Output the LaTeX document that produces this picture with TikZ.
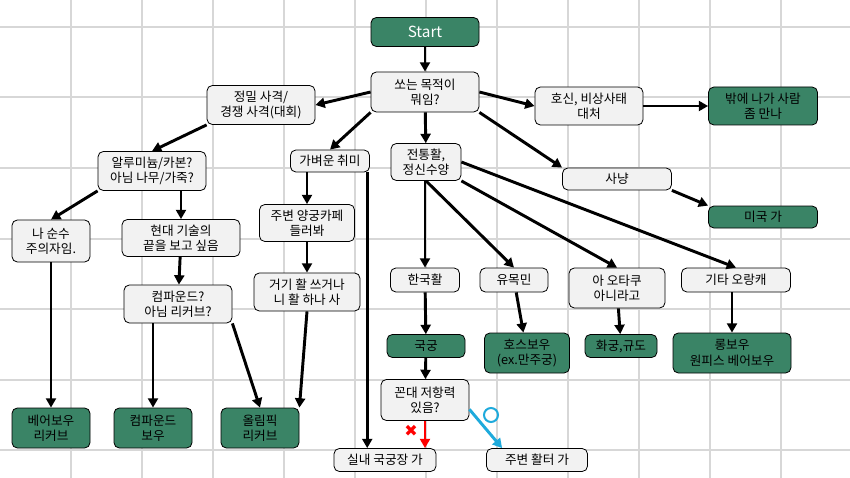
\documentclass[tikz,border=0pt]{standalone}
\usepackage{fontspec}
\setmainfont{Noto Sans CJK KR}
\newfontfamily\symfont{DejaVu Sans}
\usetikzlibrary{positioning}
\usetikzlibrary{arrows.meta}
\definecolor{boxgreen}{RGB}{58,132,102}
\definecolor{boxgray}{RGB}{242,242,242}
\definecolor{gridgray}{RGB}{215,215,215}
\definecolor{arrowcyan}{RGB}{30,170,220}
\tikzset{
  bw/.style={minimum width=#1*0.75pt},
  bh/.style={minimum height=#1*0.75pt},
  box/.style={draw=black, fill=boxgray, rounded corners=4pt, align=center, inner sep=1pt, font=\fontsize{9.5}{11.5}\selectfont, line width=0.6pt},
  gbox/.style={box, fill=boxgreen, text=black},
  arr/.style={-{Triangle[length=7pt,width=7.5pt]}, line width=2.2pt},
}
\begin{document}
\begin{tikzpicture}[x=0.75pt,y=-0.75pt]
    \useasboundingbox (0,0) rectangle (850,478);
    \fill[white] (0,0) rectangle (850,478);
    % grid
    \foreach \i in {1,...,11} \draw[gridgray, line width=1.5pt] (71*\i,0) -- (71*\i,478);
    \foreach \j in {0,...,6} \draw[gridgray, line width=1.5pt] (0,27+70.5*\j) -- (850,27+70.5*\j);

    \node[gbox,bw=108,bh=29,text=white,font=\fontsize{11.5}{13}\selectfont] (start) at (425,32) {Start};
    \node[box,bw=108,bh=40] (purpose) at (425,92) {쏘는 목적이\\뭐임?};
    \node[box,bw=108,bh=39] (match) at (261,105) {정밀 사격/\\경쟁 사격(대회)};
    \node[box,bw=108,bh=38] (defense) at (589,106) {호신, 비상사태\\대처};
    \node[gbox,bw=109,bh=38] (meet) at (763,106) {밖에 나가 사람\\좀 만나};
    \node[box,bw=108,bh=39] (material) at (152,171) {알루미늄/카본?\\아님 나무/가죽?};
    \node[box,bw=79,bh=22] (light) at (330,161) {가벼운 취미};
    \node[box,bw=70,bh=37] (trad) at (426,162) {전통활,\\정신수양};
    \node[box,bw=109,bh=22] (hunt) at (617,179) {사냥};
    \node[gbox,bw=109,bh=22] (usa) at (763,217) {미국 가};
    \node[box,bw=78,bh=42] (purist) at (51,241) {나 순수\\주의자임.};
    \node[box,bw=118,bh=37] (modern) at (181,238) {현대 기술의\\끝을 보고 싶음};
    \node[box,bw=95,bh=37] (cafe) at (307,223) {주변 양궁카페\\들러봐};
    \node[box,bw=108,bh=38] (cmpq) at (178,304) {컴파운드?\\아님 리커브?};
    \node[box,bw=106,bh=38] (buy) at (307,292) {거기 활 쓰거나\\니 활 하나 사};
    \node[box,bw=69,bh=24] (korean) at (425,280) {한국활};
    \node[box,bw=68,bh=24] (nomad) at (514,280) {유목민};
    \node[box,bw=96,bh=40] (otaku) at (617,288) {아 오타쿠\\아니라고};
    \node[box,bw=109,bh=24] (other) at (736,280) {기타 오랑캐};
    \node[gbox,bw=78,bh=23] (gukgung) at (426,346) {국궁};
    \node[gbox,bw=85,bh=40] (horse) at (527,353) {호스보우\\(ex.만주궁)};
    \node[gbox,bw=72,bh=23] (kyudo) at (621,346) {화궁,규도};
    \node[gbox,bw=118,bh=40] (long) at (732,353) {롱보우\\원피스 베어보우};
    \node[box,bw=88,bh=41] (kkondae) at (425,400) {꼰대 저항력\\있음?};
    \node[gbox,bw=78,bh=40] (bare) at (51,428) {베어보우\\리커브};
    \node[gbox,bw=78,bh=40] (cmpbow) at (153,428) {컴파운드\\보우};
    \node[gbox,bw=78,bh=40] (olympic) at (260,428) {올림픽\\리커브};
    \node[box,bw=102,bh=23] (indoor) at (385,460) {실내 국궁장 가};
    \node[box,bw=101,bh=23] (range) at (537,460) {주변 활터 가};

    \draw[arr] (start) -- (purpose);
    \draw[arr] (purpose.west) -- (match.east);
    \draw[arr] (purpose.east) -- (defense.west);
    \draw[arr] (defense) -- (meet);
    \draw[arr] (purpose.south west) -- (light.north);
    \draw[arr] (purpose) -- (trad);
    \draw[arr] (purpose.south east) -- (hunt.north west);
    \draw[arr] (hunt.south east) -- (usa.north west);
    \draw[arr] (match.south west) -- (material.north);
    \draw[arr] (material.south west) -- (purist.north);
    \draw[arr] (material.south -| modern.north) -- (modern.north);
    \draw[arr] (modern) -- (cmpq);
    \draw[arr] (cmpq.south -| cmpbow.north) -- (cmpbow.north);
    \draw[arr] (cmpq.south east) -- (olympic.north);
    \draw[arr] (purist) -- (bare);
    \draw[arr] (light.south -| cafe.north) -- (cafe.north);
    \draw[arr] (cafe) -- (buy);
    \draw[arr] (buy.south) -- (olympic.north east);
    \draw[arr] ([xshift=-2pt]light.south east) -- ([xshift=-2pt]light.south east |- indoor.north);
    \draw[arr] (trad.south -| korean.north) -- (korean.north);
    \draw[arr] (trad.south) -- (nomad.north);
    \draw[arr] (trad.south east) -- (otaku.north);
    \draw[arr] (trad.east) -- (other.north);
    \draw[arr] (korean) -- (gukgung);
    \draw[arr] (nomad) -- (horse);
    \draw[arr] (otaku) -- (kyudo);
    \draw[arr] (other.south -| long.north) -- (long.north);
    \draw[arr] (gukgung) -- (kkondae);
    \draw[arr, red] (kkondae) -- node[left=1pt, pos=0.35, text=red, font=\symfont\large] (no) {✖} (indoor.north -| kkondae.south);
    \draw[arr, arrowcyan] ([yshift=-7pt]kkondae.east) -- ([xshift=12pt]range.north west);
    \draw[arrowcyan, line width=1.5pt] (491,415) circle (7);
\end{tikzpicture}
\end{document}
